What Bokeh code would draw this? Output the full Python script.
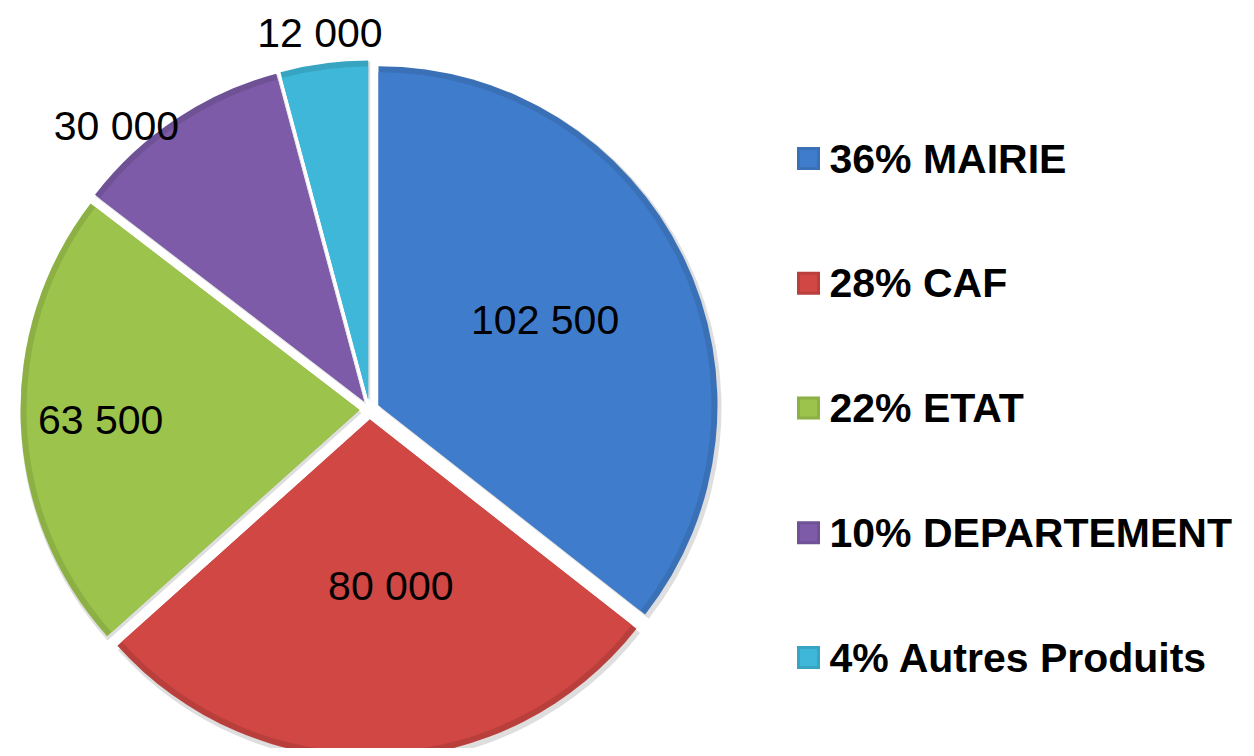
import math
from bokeh.plotting import figure
from bokeh.models import Range1d, ColumnDataSource
from bokeh.core.properties import value
from bokeh.embed import file_html
from bokeh.resources import INLINE

# ---- data ----
categories = ["MAIRIE", "CAF", "ETAT", "DEPARTEMENT", "Autres Produits"]
amounts = [102500, 80000, 63500, 30000, 12000]
value_labels = ["102 500", "80 000", "63 500", "30 000", "12 000"]

# ---- style ----
colors = ["#3f7dcc", "#d04744", "#9cc34b", "#7d5ba8", "#3eb7d8"]
edge_colors = ["#3a70b6", "#b93f3c", "#8cb043", "#6f5196", "#37a4c1"]

W, H = 1246, 748
CX, CY = 369, H - 409
R = 339
EXPLODE = 10
# label placement (radius, angle tweak in degrees)
label_r = [197, 178, 269, 380, 380]
label_dt = [1, 5, 0, 8, 0]

total = float(sum(amounts))
starts, ends, xs, ys, mids = [], [], [], [], []
cum = 0.0
for a in amounts:
    frac = a / total
    s = 90 - cum * 360
    e = s - frac * 360
    m = (s + e) / 2
    cum += frac
    starts.append(math.radians(s))
    ends.append(math.radians(e))
    mids.append(m)
    xs.append(CX + EXPLODE * math.cos(math.radians(m)))
    ys.append(CY + EXPLODE * math.sin(math.radians(m)))

p = figure(width=W, height=H, output_backend="svg", toolbar_location=None,
           x_range=Range1d(0, W), y_range=Range1d(0, H),
           min_border=0, outline_line_color=None)
p.axis.visible = False
p.grid.visible = False
p.background_fill_color = "white"

src = ColumnDataSource(dict(x=xs, y=ys, s=starts, e=ends, c=colors, ec=edge_colors,
                            sx=[x + 2 for x in xs], sy=[y - 3 for y in ys]))
# soft shadow
p.wedge(x="sx", y="sy", radius=R + 2, start_angle="s", end_angle="e", direction="clock",
        fill_color="#d6d6d6", fill_alpha=0.8, line_color=None, source=src)
p.wedge(x="x", y="y", radius=R, start_angle="s", end_angle="e", direction="clock",
        fill_color="ec", line_color=None, source=src)
p.wedge(x="x", y="y", radius=R - 6, start_angle="s", end_angle="e", direction="clock",
        fill_color="c", line_color=None, source=src)

# value labels
lx, ly = [], []
for m, r, dt in zip(mids, label_r, label_dt):
    a = math.radians(m + dt)
    lx.append(CX + r * math.cos(a))
    ly.append(CY + r * math.sin(a))
p.text(x=lx, y=ly, text=value_labels, text_align="center", text_baseline="middle",
       text_font=value("Liberation Sans"), text_font_size="41px", text_color="black")

# legend
pcts = ["%d%% %s" % (round(a / total * 100), c) for a, c in zip(amounts, categories)]
LEG_X = 808
LEG_Y0 = H - 158
LEG_STEP = 124.75
mx = [LEG_X] * len(categories)
my = [LEG_Y0 - i * LEG_STEP for i in range(len(categories))]
p.rect(x=mx, y=my, width=23, height=23, fill_color=edge_colors, line_color=None)
p.rect(x=mx, y=my, width=17, height=17, fill_color=colors, line_color=None)
p.text(x=[LEG_X + 21] * len(categories), y=my, text=pcts, text_align="left",
       text_baseline="middle", text_font=value("Liberation Sans"),
       text_font_size="41px", text_font_style="bold", text_color="black")

open("out.html", "w").write(file_html(p, INLINE))
